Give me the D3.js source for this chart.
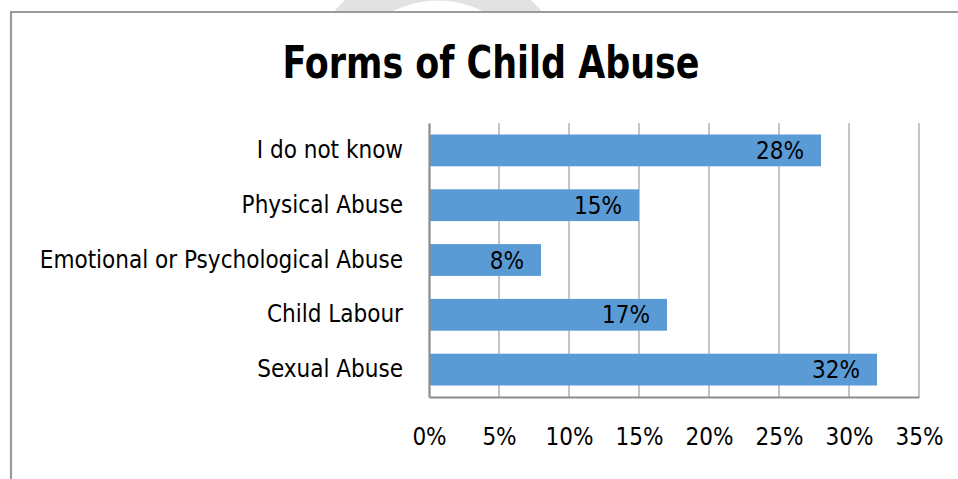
<!DOCTYPE html>
<html>
<head>
<meta charset="utf-8">
<script src="https://cdn.jsdelivr.net/npm/d3@7"></script>
<style>
  html, body { margin: 0; padding: 0; background: #fff; }
  svg { display: block; }
  text { font-family: "DejaVu Sans Condensed", "Liberation Sans", "Open Sans", sans-serif; fill: #000; }
</style>
</head>
<body>
<script>
// Survey answers: which form of child abuse is most common
const categories = ["I do not know", "Physical Abuse", "Emotional or Psychological Abuse", "Child Labour", "Sexual Abuse"];
const values = [28, 15, 8, 17, 32];
const tickValues = [0, 5, 10, 15, 20, 25, 30, 35];
const title = "Forms of Child Abuse";

const W = 958, H = 479;
const plot = { left: 429, right: 919, top: 123, bottom: 397 };

const svg = d3.select("body").append("svg")
  .attr("width", W).attr("height", H);

// faint watermark ring peeking above the frame
const wm = svg.append("g");
wm.append("clipPath").attr("id", "wmclip")
  .append("rect").attr("x", 0).attr("y", 0).attr("width", W).attr("height", 11);
wm.append("circle")
  .attr("cx", 438).attr("cy", 100).attr("r", 118)
  .attr("fill", "none").attr("stroke", "#e2e2e2").attr("stroke-width", 37)
  .attr("clip-path", "url(#wmclip)");

// chart frame (runs off the right and bottom edges)
svg.append("path")
  .attr("d", `M11,${H + 5} V12 H${W + 5}`)
  .attr("fill", "none").attr("stroke", "#9a9a9a").attr("stroke-width", 2.2);

// title
svg.append("text")
  .attr("x", 491).attr("y", 78)
  .attr("text-anchor", "middle")
  .attr("textLength", 417).attr("lengthAdjust", "spacingAndGlyphs")
  .style("font-size", "44px").style("font-weight", "bold")
  .text(title);

const x = d3.scaleLinear().domain([0, 35]).range([plot.left, plot.right]);
const y = d3.scaleBand().domain(categories).range([plot.top, plot.bottom]).paddingInner(0.42).paddingOuter(0.21);

// vertical gridlines
svg.append("g").selectAll("line")
  .data(tickValues.slice(1))
  .join("line")
  .attr("x1", d => x(d)).attr("x2", d => x(d))
  .attr("y1", plot.top).attr("y2", plot.bottom)
  .attr("stroke", "#a6a6a6").attr("stroke-width", 1.3);

// bars
svg.append("g").selectAll("rect")
  .data(categories)
  .join("rect")
  .attr("x", x(0))
  .attr("y", d => y(d))
  .attr("width", (d, i) => x(values[i]) - x(0))
  .attr("height", y.bandwidth())
  .attr("fill", "#5b9bd5");

// value labels inside the bar ends
svg.append("g").selectAll("text")
  .data(categories)
  .join("text")
  .attr("x", (d, i) => x(values[i]) - 17)
  .attr("y", d => y(d) + y.bandwidth() / 2)
  .attr("dy", "0.36em")
  .attr("text-anchor", "end")
  .style("font-size", "24px")
  .text((d, i) => values[i] + "%");

// category axis (left)
const yAxis = svg.append("g")
  .attr("transform", `translate(${plot.left},0)`)
  .call(d3.axisLeft(y).tickSize(0).tickPadding(26));
yAxis.select(".domain").attr("stroke", "#8c8c8c").attr("stroke-width", 2.2);
yAxis.selectAll("text").style("font-size", "24px").attr("fill", "#000");

// value axis (bottom)
const xAxis = svg.append("g")
  .attr("transform", `translate(0,${plot.bottom})`)
  .call(d3.axisBottom(x).tickValues(tickValues).tickSize(0).tickPadding(31).tickFormat(d => d + "%"));
xAxis.select(".domain").attr("stroke", "#8c8c8c").attr("stroke-width", 2.2);
xAxis.selectAll("text").style("font-size", "24px").attr("fill", "#000");
</script>
</body>
</html>
